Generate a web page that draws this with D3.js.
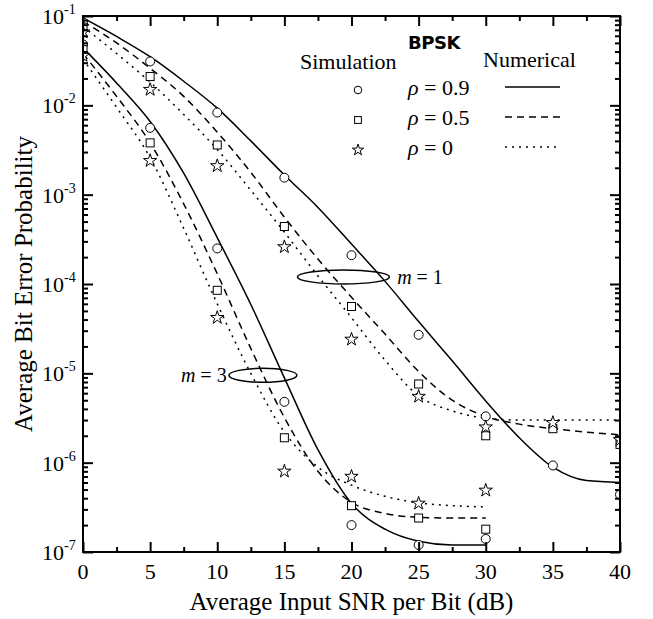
<!DOCTYPE html>
<html>
<head>
<meta charset="utf-8">
<script src="https://cdn.jsdelivr.net/npm/d3@7"></script>
<style>
  body { margin: 0; background: #fff; }
  text { font-family: "Liberation Serif", "Times New Roman", serif; fill: #000; }
</style>
</head>
<body>
<div id="chart"></div>
<script>
// snr grid for the numerical curves (dB)
var snrCurve = [0, 2.5, 5, 7.5, 10, 12.5, 15, 17.5, 20, 22.5, 25, 27.5, 30, 32.5, 35, 37.5, 40]
var snrCurveM3 = [0, 2.5, 5, 7.5, 10, 12.5, 15, 17.5, 20, 22.5, 25, 27.5, 30]
var snrSim = [0, 5, 10, 15, 20, 25, 30, 35, 40]
var snrSimM3 = [0, 5, 10, 15, 20, 25, 30]

// numerical, m = 1 (bit error probability)
var num_m1_r09 = [9.5e-2, 5.9e-2, 3.5e-2, 1.86e-2, 9.3e-3, 4e-3, 1.66e-3, 7.2e-4, 2.8e-4, 1.07e-4, 3.8e-5, 1.38e-5, 4.9e-6, 1.9e-6, 8.9e-7, 6.3e-7, 6e-7]
var num_m1_r05 = [8.7e-2, 5e-2, 2.6e-2, 1.26e-2, 5e-3, 1.78e-3, 5.6e-4, 1.9e-4, 7.1e-5, 2.75e-5, 1.05e-5, 5e-6, 3.3e-6, 2.7e-6, 2.4e-6, 2.2e-6, 2.05e-6]
var num_m1_r0 = [7.6e-2, 3.8e-2, 1.82e-2, 7.9e-3, 3.2e-3, 1.12e-3, 3.8e-4, 1.23e-4, 4.2e-5, 1.4e-5, 5.6e-6, 3.8e-6, 3.15e-6, 3e-6, 3e-6, 3e-6, 3e-6]

// numerical, m = 3
var num_m3_r09 = [4.4e-2, 1.78e-2, 6.6e-3, 1.74e-3, 3.3e-4, 5.9e-5, 8.9e-6, 1.4e-6, 3.5e-7, 1.8e-7, 1.32e-7, 1.2e-7, 1.2e-7]
var num_m3_r05 = [3.8e-2, 1.26e-2, 3.8e-3, 7.9e-4, 1.3e-4, 1.9e-5, 3.2e-6, 8e-7, 3.6e-7, 2.7e-7, 2.45e-7, 2.4e-7, 2.4e-7]
var num_m3_r0 = [3.3e-2, 9.5e-3, 2.6e-3, 4.2e-4, 6e-5, 1e-5, 2.2e-6, 8.9e-7, 5.6e-7, 4.2e-7, 3.55e-7, 3.3e-7, 3.2e-7]

// simulation, m = 1
var sim_m1_r09 = [8.5e-2, 3.1e-2, 8.3e-3, 1.55e-3, 2.1e-4, 2.7e-5, 3.3e-6, 9.3e-7, 4.4e-7]
var sim_m1_r05 = [7.5e-2, 2.1e-2, 3.6e-3, 4.4e-4, 5.6e-5, 7.6e-6, 2.0e-6, 2.4e-6, 1.6e-6]
var sim_m1_r0 = [6.6e-2, 1.5e-2, 2.1e-3, 2.6e-4, 2.4e-5, 5.5e-6, 2.5e-6, 2.8e-6, 1.8e-6]

// simulation, m = 3
var sim_m3_r09 = [4.8e-2, 5.6e-3, 2.5e-4, 4.8e-6, 2.0e-7, 1.2e-7, 1.4e-7]
var sim_m3_r05 = [4.2e-2, 3.8e-3, 8.5e-5, 1.9e-6, 3.3e-7, 2.4e-7, 1.8e-7]
var sim_m3_r0 = [3.6e-2, 2.4e-3, 4.2e-5, 8e-7, 7e-7, 3.5e-7, 4.9e-7]

var rhoLabels = ['0.9', '0.5', '0']
var xTicks = [0, 5, 10, 15, 20, 25, 30, 35, 40]
var yDecades = [-7, -6, -5, -4, -3, -2, -1]


var margin = {left: 83, right: 33, top: 16, bottom: 67}
var width = 653 - margin.left - margin.right
var height = 619 - margin.top - margin.bottom

var svg = d3.select('#chart').append('svg')
  .attr('width', 653)
  .attr('height', 619)

var g = svg.append('g')
  .attr('transform', `translate(${margin.left},${margin.top})`)

var x = d3.scaleLinear().domain([0, 40]).range([0, width])
var y = d3.scaleLog().domain([1e-7, 1e-1]).range([height, 0])

g.append('clipPath').attr('id', 'plot-clip')
  .append('rect').attr('width', width).attr('height', height)

var dashes = ['', '7,5', '2,5']

var curves = [
  {snr: snrCurve, v: num_m1_r09, k: 0}, {snr: snrCurve, v: num_m1_r05, k: 1}, {snr: snrCurve, v: num_m1_r0, k: 2},
  {snr: snrCurveM3, v: num_m3_r09, k: 0}, {snr: snrCurveM3, v: num_m3_r05, k: 1}, {snr: snrCurveM3, v: num_m3_r0, k: 2},
]
var sims = [
  {snr: snrSim, v: sim_m1_r09, k: 0}, {snr: snrSim, v: sim_m1_r05, k: 1}, {snr: snrSim, v: sim_m1_r0, k: 2},
  {snr: snrSimM3, v: sim_m3_r09, k: 0}, {snr: snrSimM3, v: sim_m3_r05, k: 1}, {snr: snrSimM3, v: sim_m3_r0, k: 2},
]

var line = d3.line()
  .x(d => x(d[0]))
  .y(d => y(d[1]))
  .curve(d3.curveMonotoneX)

var plot = g.append('g').attr('clip-path', 'url(#plot-clip)')

plot.selectAll('path.num')
  .data(curves)
  .join('path')
  .attr('class', 'num')
  .attr('d', d => line(d.snr.map((s, i) => [s, d.v[i]])))
  .attr('fill', 'none')
  .attr('stroke', '#000')
  .attr('stroke-width', 1.5)
  .attr('stroke-dasharray', d => dashes[d.k])

function marker(sel, k, s) {
  if (k == 0) {
    sel.append('circle').attr('r', 4.5 * s)
  } else if (k == 1) {
    sel.append('rect').attr('x', -4 * s).attr('y', -4 * s).attr('width', 8 * s).attr('height', 8 * s)
  } else {
    sel.append('path').attr('d', d3.symbol(d3.symbolStar, 55 * s * s)())
  }
  sel.selectAll('*').attr('fill', '#fff').attr('stroke', '#000').attr('stroke-width', 1)
}

sims.forEach(d => {
  d.snr.forEach((s, i) => {
    var m = plot.append('g').attr('transform', `translate(${x(s)},${y(d.v[i])})`)
    marker(m, d.k, 1)
  })
})


// ellipses and m labels
g.append('ellipse')
  .attr('cx', x(19.4)).attr('cy', y(1.2e-4))
  .attr('rx', 46).attr('ry', 7)
  .attr('fill', 'none').attr('stroke', '#000').attr('stroke-width', 1.5)
g.append('text')
  .attr('x', x(23.4)).attr('y', y(1.2e-4)).attr('dy', '.35em')
  .style('font-size', '20px')
  .html('<tspan font-style="italic">m</tspan> = 1')

g.append('ellipse')
  .attr('cx', x(13.4)).attr('cy', y(9.5e-6))
  .attr('rx', 34).attr('ry', 7)
  .attr('fill', 'none').attr('stroke', '#000').attr('stroke-width', 1.5)
g.append('text')
  .attr('x', x(10.7)).attr('y', y(9.5e-6)).attr('dy', '.35em')
  .attr('text-anchor', 'end')
  .style('font-size', '20px')
  .html('<tspan font-style="italic">m</tspan> = 3')


// axes: frame, ticks inward on all four sides
var minorX = d3.range(0, 40.1, 2.5).filter(d => d % 5)
var minorY = []
yDecades.slice(0, -1).forEach(e => d3.range(2, 10).forEach(m => minorY.push(m * Math.pow(10, e))))

function styleAxis(sel) {
  sel.select('.domain').remove()
  sel.selectAll('line').attr('stroke', '#000').attr('stroke-width', 2)
  sel.selectAll('text').remove()
}

g.append('g').attr('transform', `translate(0,${height})`)
  .call(d3.axisBottom(x).tickValues(xTicks).tickSize(-10)).call(styleAxis)
g.append('g').attr('transform', `translate(0,${height})`)
  .call(d3.axisBottom(x).tickValues(minorX).tickSize(-5)).call(styleAxis)
g.append('g')
  .call(d3.axisTop(x).tickValues(xTicks).tickSize(-10)).call(styleAxis)
g.append('g')
  .call(d3.axisTop(x).tickValues(minorX).tickSize(-5)).call(styleAxis)

var decadeVals = yDecades.map(e => Math.pow(10, e))
g.append('g')
  .call(d3.axisLeft(y).tickValues(decadeVals).tickSize(-10)).call(styleAxis)
g.append('g')
  .call(d3.axisLeft(y).tickValues(minorY).tickSize(-5)).call(styleAxis)
g.append('g').attr('transform', `translate(${width},0)`)
  .call(d3.axisRight(y).tickValues(decadeVals).tickSize(-10)).call(styleAxis)
g.append('g').attr('transform', `translate(${width},0)`)
  .call(d3.axisRight(y).tickValues(minorY).tickSize(-5)).call(styleAxis)

g.append('rect')
  .attr('width', width).attr('height', height)
  .attr('fill', 'none').attr('stroke', '#000').attr('stroke-width', 2)

// tick labels
g.selectAll('text.xt')
  .data(xTicks)
  .join('text')
  .attr('class', 'xt')
  .attr('x', d => x(d))
  .attr('y', height + 27)
  .attr('text-anchor', 'middle')
  .style('font-size', '22px')
  .text(d => d)

var yt = g.selectAll('text.yt')
  .data(yDecades)
  .join('text')
  .attr('class', 'yt')
  .attr('x', -41)
  .attr('y', d => y(Math.pow(10, d)) + 8)
  .style('font-size', '22px')
yt.append('tspan').text('10')
yt.append('tspan').attr('dy', -10).style('font-size', '14px').text(d => d)

// axis titles
g.append('text')
  .attr('x', width / 2).attr('y', height + 58)
  .attr('text-anchor', 'middle')
  .style('font-size', '25px')
  .text('Average Input SNR per Bit (dB)')

g.append('text')
  .attr('transform', `translate(${-51},${height / 2}) rotate(-90)`)
  .attr('text-anchor', 'middle')
  .style('font-size', '25px')
  .text('Average Bit Error Probability')


// legend
var lg = svg.append('g')
lg.append('text')
  .attr('x', 408).attr('y', 49)
  .style('font-family', '"DejaVu Sans", sans-serif')
  .style('font-weight', 'bold')
  .style('font-size', '18px')
  .style('letter-spacing', '-0.5px')
  .text('BPSK')
lg.append('text').attr('x', 300).attr('y', 69).style('font-size', '22px').text('Simulation')
lg.append('text').attr('x', 483).attr('y', 67).style('font-size', '22px').text('Numerical')

rhoLabels.forEach((r, i) => {
  var yy = 95 + i * 30
  var m = lg.append('g').attr('transform', `translate(358,${yy - 5})`)
  marker(m, i, 0.85)
  lg.append('text').attr('x', 408).attr('y', yy).style('font-size', '22px')
    .html(`<tspan font-style="italic">ρ</tspan> = ${r}`)
  lg.append('line')
    .attr('x1', 505).attr('x2', 560).attr('y1', yy - 8).attr('y2', yy - 8)
    .attr('stroke', '#000').attr('stroke-width', 1.5)
    .attr('stroke-dasharray', dashes[i])
})
</script>
</body>
</html>
